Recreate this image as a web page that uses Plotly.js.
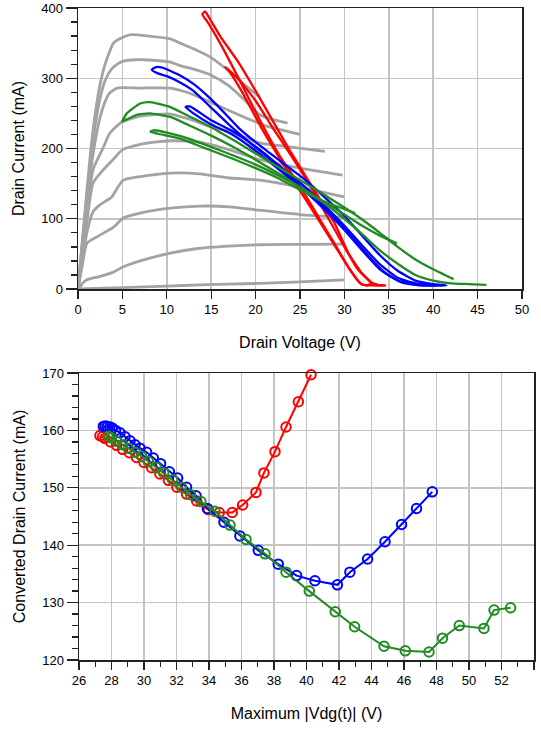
<!DOCTYPE html>
<html><head><meta charset="utf-8">
<script src="https://cdn.plot.ly/plotly-3.0.1.min.js"></script>
<style>html,body{margin:0;padding:0;background:#fff}#plot{width:541px;height:729px}</style>
</head><body><div id="plot"></div>
<script>
// ---------- Top plot: DC IV family (gray) ----------
const ivA_V=[0,0.5,1,1.5,2,2.5,3,3.5,4,5,6,8,10.4,11.5,13,14.9,17,19,20.5];
const ivA_I=[0,70,140,205,255,292,318,336,350,358,362,360,356,350,342,330,310,288,273];
const ivB_V=[0,0.5,1,1.5,2,2.5,3,3.5,4,5,6,8,10.4,11.5,13,14.9,17,19,20.5,22,23.6];
const ivB_I=[0,68,133,192,238,272,295,308,316,324,326,326,323,318,313,305,289,266,248,241,236];
const ivC_V=[0,0.5,1,1.5,2,2.5,3,3.5,4.4,7,10.4,12.5,14.9,17,19,21,23,25];
const ivC_I=[0,65,125,175,215,245,265,278,286,286,286,279,266,254,243,233,226,220];
const ivD_V=[0,0.5,1,1.7,2.8,3.6,5,7,10.4,12.5,14.9,17.1,20.5,24,27.8];
const ivD_I=[0,55,110,170,200,222,238,246,249,242,231,224,208,202,196];
const ivE_V=[0,0.5,1,1.7,2.8,4,5,7,10.4,13.7,17.1,20.5,25,29.8];
const ivE_I=[0,45,95,151,169,185,198,206,211,209,198,184,172,162];
const ivF_V=[0,0.5,1,1.7,2.5,3.8,4.5,5.1,7,10.4,13.7,17.1,20.5,25,30];
const ivF_I=[0,40,80,110,120,131,145,155,160,165,164,158,155,145,131];
const ivG_V=[0,0.5,1,2.1,4,5.1,7,10.4,13.7,17.1,20.5,25,30];
const ivG_I=[0,35,65,74,88,101,108,115,118,117,112,106,102];
const ivH_V=[0,0.5,1,2.5,4,5,7,10.4,13.7,17,20.5,25,30];
const ivH_I=[0,8,13,18,24,31,40,51,58,61,63,63.5,64];
const ivI_V=[0,5,10,13.7,17,20.5,25,30];
const ivI_I=[0,2,4,6,7,8,10,13];

// ---------- Top plot: dynamic load lines ----------
const redA_V=[14.3,14.0,14.6,16,18,20.5,22.7,25,27.2,29,30.5,31.5,32,33.5,34.6,33.8,33.2,32,30.5,28.8,26.1,24,22.4,20,18,16,14.6,14.3];
const redA_I=[395,391,380,350,302,240,190,146,100,62,30,12,6,5,5,6,8,22,50,96,151,194,229,282,324,360,390,395];
const redB_V=[16.6,16.9,18.5,20.8,23,25,27,29,30.5,31.8,32.5,33,31.5,30,28,26,24,22,20,18,16.6];
const redB_I=[316,312,280,226,180,140,100,60,30,8,5,8,28,60,105,150,190,228,268,300,316];

const blueA_V=[8.3,8.8,9.5,11.5,13,15,17,18.2,20.5,23,25.5,28,30,32,34,36,38,40,41.5,39,36.5,34.5,32.5,30.5,28.5,26.5,24,21.5,19,17,15,13,11.5,10,9,8.3];
const blueA_I=[312,316,315,304,292,270,244,228,204,180,156,128,104,76,48,26,12,7,5,5,9,24,50,80,106,130,158,186,212,234,258,282,294,303,307,312];
const blueB_V=[12.1,12.6,14.9,17.5,20.5,23,25.5,28,30,32,34,36,38,40.5,38,36,34,32,30,28,25.5,23,20.5,17.5,14.9,13,12.1];
const blueB_I=[259,260,241,224,198,172,146,116,90,62,35,16,8,5,6,12,28,55,84,110,140,166,192,219,235,250,259];

const greenA_V=[4.95,5.5,7,8.1,10.4,12.5,14.9,17.5,20,22.5,25,27.5,30,32,34,36,38,40,42.3];
const greenA_I=[238,250,264,266,259,246,231,212,193,174,155,136,116,99,80,60,42,28,14];
const greenB_V=[4.95,6.6,8.1,10.4,12.5,14.9,17.5,20,22.5,25,27.5,30,32,34,36,38,40,42,44,46];
const greenB_I=[238,248,250,245,233,219,202,184,165,145,124,100,78,55,36,20,12,8,7,6];
const greenC_V=[8.1,8.6,11.5,14,17.5,20,22.5,25,27.5,30,32,34,35.9];
const greenC_I=[224,226,218,207,190,177,162,145,126,106,90,76,65];
const greenD_V=[8.1,9,11.5,14,17.5,20,22.5,25,27.5,29.5,31.2];
const greenD_I=[224,221,214,202,185,172,158,141,126,116,108];

// ---------- Bottom plot ----------
const redVdg=[27.29,27.45,27.6,27.95,28.31,28.68,29.1,29.54,30.0,30.47,30.98,31.5,32.02,32.62,33.24,33.96,34.63,35.43,36.07,36.89,37.38,38.06,38.74,39.5,40.28];
const redId=[159.1,158.9,158.6,158.0,157.4,156.7,156.1,155.3,154.4,153.5,152.4,151.3,150.1,148.9,147.7,146.2,145.7,145.7,147.0,149.2,152.6,156.3,160.6,165.0,169.7];
const blueVdg=[27.5,27.62,27.75,27.9,28.05,28.25,28.52,28.83,29.14,29.45,29.75,30.16,30.57,31.02,31.56,32.07,32.62,33.2,33.9,34.92,35.9,37.03,38.26,39.39,40.52,41.9,42.67,43.76,44.83,45.85,46.77,47.74];
const blueId=[160.7,160.75,160.7,160.6,160.4,160.0,159.6,158.9,158.2,157.5,156.9,156.2,155.2,154.2,152.8,151.7,150.1,148.6,146.4,144.0,141.6,139.1,136.7,134.7,133.8,133.1,135.3,137.6,140.6,143.6,146.4,149.3];
const greenVdg=[27.8,28.0,28.32,28.68,29.03,29.45,29.85,30.27,30.74,31.21,31.76,32.31,32.87,33.5,34.37,35.29,36.28,37.45,38.74,40.17,41.77,42.96,44.77,46.08,47.54,48.37,49.4,50.92,51.54,52.56];
const greenId=[159.0,158.7,158.1,157.5,156.9,156.2,155.5,154.6,153.6,152.6,151.4,150.1,148.8,147.6,145.9,143.5,141.0,138.5,135.3,132.0,128.4,125.8,122.4,121.6,121.4,123.8,126.0,125.5,128.7,129.1];

const GRAY='#a3a3a3', RED='#ff0000', BLUE='#0000ff', GREEN='#228b22';
const traces=[];
const ivs=[[ivA_V,ivA_I],[ivB_V,ivB_I],[ivC_V,ivC_I],[ivD_V,ivD_I],[ivE_V,ivE_I],[ivF_V,ivF_I],[ivG_V,ivG_I],[ivH_V,ivH_I],[ivI_V,ivI_I]];
ivs.forEach(p=>traces.push({x:p[0],y:p[1],type:'scatter',mode:'lines',line:{color:GRAY,width:2.8,shape:'spline',smoothing:0.6},xaxis:'x',yaxis:'y',hoverinfo:'skip'}));
traces.push({x:[0],y:[0],mode:'markers',marker:{symbol:'x-thin-open',size:9,color:GRAY,line:{width:2,color:GRAY}},xaxis:'x',yaxis:'y'});
const dyn=[[redA_V,redA_I,RED],[redB_V,redB_I,RED],[blueA_V,blueA_I,BLUE],[blueB_V,blueB_I,BLUE],[greenA_V,greenA_I,GREEN],[greenB_V,greenB_I,GREEN],[greenC_V,greenC_I,GREEN],[greenD_V,greenD_I,GREEN]];
dyn.forEach(p=>traces.push({x:p[0],y:p[1],type:'scatter',mode:'lines',line:{color:p[2],width:2.3,shape:'spline',smoothing:0.5},xaxis:'x',yaxis:'y'}));
[[redVdg,redId,RED],[blueVdg,blueId,BLUE],[greenVdg,greenId,GREEN]].forEach(p=>traces.push({x:p[0],y:p[1],type:'scatter',mode:'lines+markers',cliponaxis:false,line:{color:p[2],width:2},marker:{symbol:'circle-open',size:9.5,color:p[2],line:{width:2,color:p[2]}},xaxis:'x2',yaxis:'y2'}));

const FAM='Liberation Sans, Arial, sans-serif';
const FONT={family:FAM,size:13,color:'#000'};
const TF={family:FAM,size:16,color:'#000'};
const ax={showline:true,linecolor:'#222',linewidth:1.5,mirror:true,showgrid:true,gridcolor:'#c4c4c4',gridwidth:1.5,zeroline:false,ticks:'outside',tickcolor:'#222',tickwidth:1.3,tickfont:FONT};
const layout={
  width:541,height:729,margin:{l:0,r:0,t:0,b:0},paper_bgcolor:'#fff',plot_bgcolor:'#fff',showlegend:false,font:FONT,
  xaxis:Object.assign({},ax,{domain:[78/541,522/541],anchor:'y',range:[0,50],dtick:5,ticklen:8,
    title:{text:'Drain Voltage (V)',font:TF,standoff:20}}),
  yaxis:Object.assign({},ax,{domain:[1-289/729,1-8/729],anchor:'x',range:[0,400],dtick:100,ticklen:11,
    minor:{dtick:20,ticks:'outside',ticklen:6,tickcolor:'#222',showgrid:false},
    title:{text:'Drain Current (mA)',font:TF,standoff:12}}),
  xaxis2:Object.assign({},ax,{domain:[79/541,534/541],anchor:'y2',range:[26,54],dtick:2,ticklen:8,
    minor:{dtick:1,ticks:'outside',ticklen:5,tickcolor:'#222',showgrid:false},
    title:{text:'Maximum |Vdg(t)| (V)',font:TF,standoff:20}}),
  yaxis2:Object.assign({},ax,{domain:[1-660/729,1-373/729],anchor:'x2',range:[120,170],dtick:10,ticklen:11,
    minor:{dtick:2,ticks:'outside',ticklen:6,tickcolor:'#222',showgrid:false},
    title:{text:'Converted Drain Current (mA)',font:TF,standoff:12}})
};
Plotly.newPlot('plot',traces,layout,{staticPlot:true,displayModeBar:false});
</script></body></html>
